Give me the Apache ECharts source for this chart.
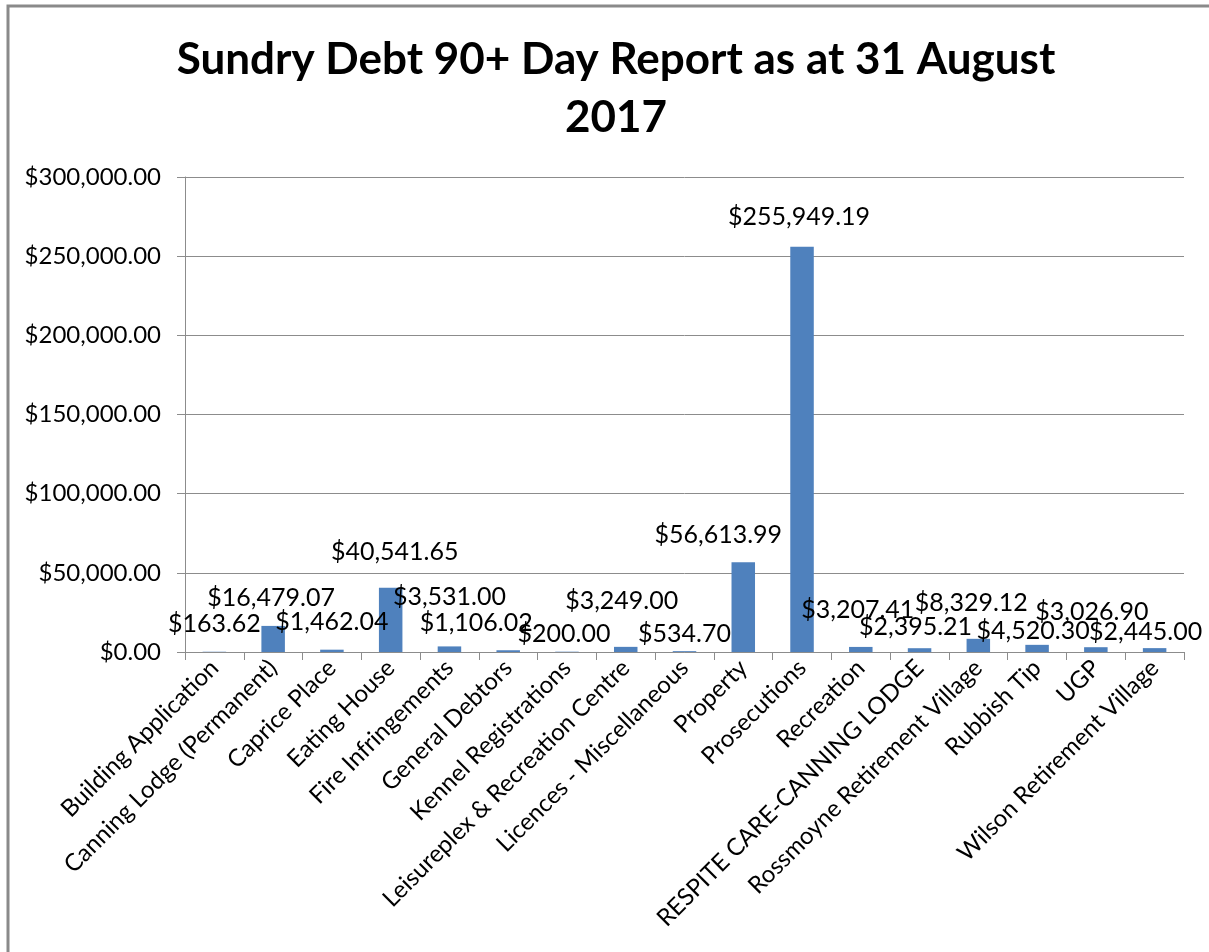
<!DOCTYPE html>
<html>
<head>
<meta charset="utf-8">
<script src="https://cdn.jsdelivr.net/npm/echarts@6/dist/echarts.min.js"></script>
<style>
  html, body { margin: 0; padding: 0; background: #fff; }
  #chart { width: 1209px; height: 952px; }
</style>
</head>
<body>
<div id="chart"></div>
<script>
const categories = [
  'Building Application', 'Canning Lodge (Permanent)', 'Caprice Place', 'Eating House',
  'Fire Infringements', 'General Debtors', 'Kennel Registrations',
  'Leisureplex & Recreation Centre', 'Licences - Miscellaneous', 'Property', 'Prosecutions',
  'Recreation', 'RESPITE CARE-CANNING LODGE', 'Rossmoyne Retirement Village', 'Rubbish Tip',
  'UGP', 'Wilson Retirement Village'
];
const amounts = [
  163.62, 16479.07, 1462.04, 40541.65, 3531.00, 1106.02, 200.00, 3249.00, 534.70,
  56613.99, 255949.19, 3207.41, 2395.21, 8329.12, 4520.30, 3026.90, 2445.00
];
const yTicks = [0, 50000, 100000, 150000, 200000, 250000, 300000];

// Excel staggered some labels to avoid overlaps: [dx, dy] nudges in px
const labelNudge = [
  [0, 0], [-2, 0], [0, 0], [4, -8], [0, -22], [-32, 0], [-3, 10], [-4, -18], [0, 10],
  [-25, 0], [-3, -2], [-3, -9], [-4, 6], [-7, -8], [-4, 14], [-4, -8], [-9, 11]
];

const money = v => '$' + v.toLocaleString('en-US', { minimumFractionDigits: 2, maximumFractionDigits: 2 });

const chart = echarts.init(document.getElementById('chart'));
const font = 'Lato, "Open Sans", sans-serif';

chart.setOption({
  animation: false,
  title: {
    text: 'Sundry Debt 90+ Day Report as at 31 August\n2017',
    left: 611, top: 26, textAlign: 'center',
    textStyle: { fontFamily: font, fontWeight: 'bold', fontSize: 44, lineHeight: 58, color: '#000' }
  },
  graphic: [{
    type: 'rect', shape: { x: 8, y: 6, width: 1220, height: 960 },
    style: { fill: 'none', stroke: '#8a8a8a', lineWidth: 3 }, silent: true
  }],
  grid: { left: 185, right: 25, top: 177, bottom: 300 },
  xAxis: {
    type: 'category', data: categories,
    axisLine: { lineStyle: { color: '#8c8c8c', width: 1 } },
    axisTick: { show: true, length: 8, lineStyle: { color: '#8c8c8c' } },
    axisLabel: { rotate: 45, interval: 0, margin: 12, fontFamily: font, fontSize: 24, color: '#000' }
  },
  yAxis: {
    type: 'value', min: yTicks[0], max: yTicks[yTicks.length - 1], interval: 50000,
    axisLine: { show: true, lineStyle: { color: '#8c8c8c' } },
    axisTick: { show: true, length: 8, lineStyle: { color: '#8c8c8c' } },
    splitLine: { lineStyle: { color: '#8c8c8c' } },
    axisLabel: { margin: 24, fontFamily: font, fontSize: 24, color: '#000', formatter: money }
  },
  series: [{
    type: 'bar',
    data: amounts.map((v, i) => ({
      value: v,
      label: { offset: labelNudge[i] }
    })),
    barCategoryGap: '60%',
    itemStyle: { color: '#4f81bd' },
    label: {
      show: true, position: 'top', distance: 15,
      fontFamily: font, fontSize: 25, color: '#000',
      formatter: p => money(p.value)
    }
  }]
});
</script>
</body>
</html>
